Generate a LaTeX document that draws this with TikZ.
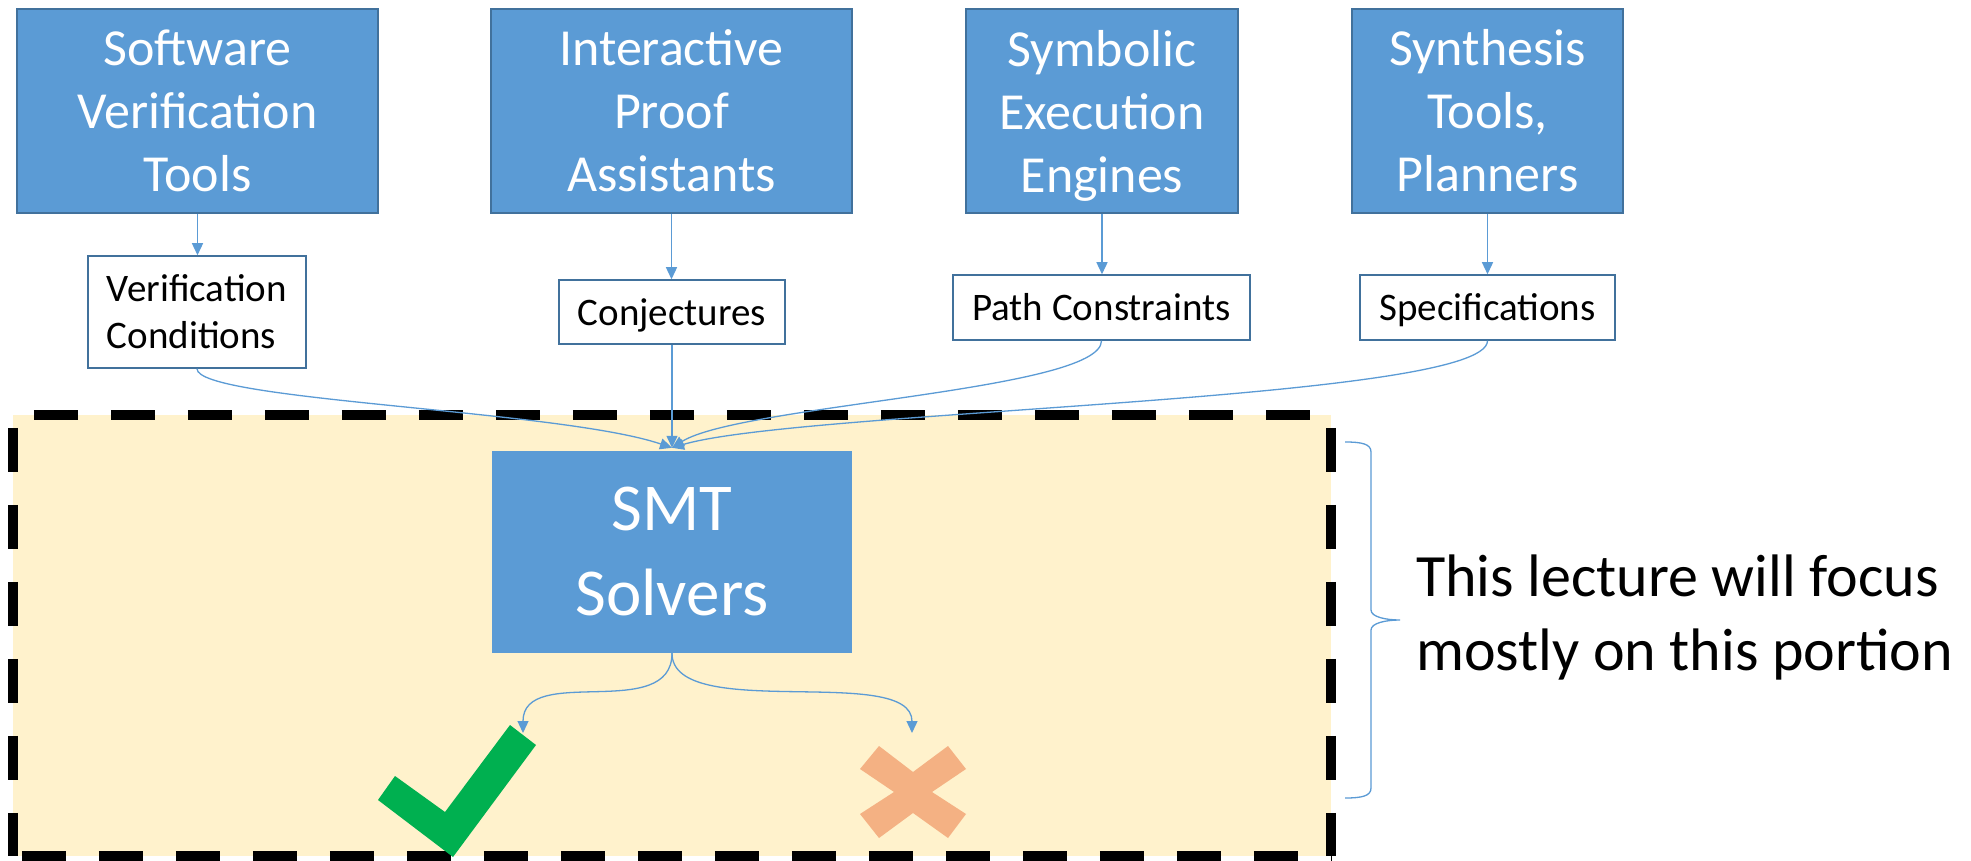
\documentclass[tikz,border=0pt]{standalone}
\usepackage{fontspec}
\setmainfont{Carlito}
\usepackage{xcolor}
\usepackage{tikz}
\usetikzlibrary{arrows.meta,positioning}
\definecolor{OfficeBlue}{RGB}{91,155,213}
\definecolor{OfficeEdge}{RGB}{65,113,156}
\definecolor{FocusBg}{RGB}{255,242,204}
\definecolor{YesGreen}{RGB}{0,176,80}
\definecolor{NoSalmon}{RGB}{244,177,131}

\begin{document}
\begin{tikzpicture}[x=1pt, y=-1pt,
  every node/.style={inner sep=0pt},
  tool/.style={rectangle, draw=OfficeEdge, line width=2pt, fill=OfficeBlue, text=white, align=center, minimum height=204pt, font=\fontsize{52}{63}\selectfont},
  result/.style={rectangle, draw=OfficeEdge, line width=1.5pt, fill=white, align=center, font=\fontsize{39}{47}\selectfont},
  solver/.style={rectangle, fill=OfficeBlue, text=white, align=center, minimum width=360pt, minimum height=202pt, font=\fontsize{67}{85}\selectfont},
  link/.style={draw=OfficeBlue, line width=1.3pt, -{Triangle[length=12pt,width=11pt]}},
  border/.style={line width=10pt, dash pattern=on 44pt off 33pt},
  brace/.style={draw=OfficeBlue, line width=1.3pt}
]
\path[use as bounding box, fill=white] (0,0) rectangle (1971,861);

% highlighted part with the solver
\node[fill=FocusBg, minimum width=1318pt, minimum height=441pt] (focus) at (672,635.5) {};
\draw[border, dash phase=56pt] (focus.north west) -- (focus.north east);
\draw[border, dash phase=64pt] (focus.north west) -- (focus.south west);
\draw[border, dash phase=64pt] (focus.north east) -- (focus.south east);
\draw[border, dash phase=68pt] (focus.south west) -- (focus.south east);

% front ends
\node[tool, minimum width=361pt] (svt) at (197.5,111) {Software\\Verification\\Tools};
\node[tool, minimum width=361pt] (ipa) at (671.5,111) {Interactive\\Proof\\Assistants};
\node[tool, minimum width=272pt] (see) at (1102,111) {Symbolic\\Execution\\\smash{Engines}};
\node[tool, minimum width=271pt] (syn) at (1487.5,111) {Synthesis\\Tools,\\Planners};

% what they produce
\node[result, align=left, minimum width=218pt, minimum height=112pt] (vc) at (197,312) {Verification\\Conditions};
\node[result, text depth=0pt, minimum width=226pt, minimum height=64pt] (conj) at (672,312) {Conjectures};
\node[result, minimum width=297pt, minimum height=65pt] (pc) at (1101.5,307.5) {Path Constraints};
\node[result, text depth=0pt, minimum width=255pt, minimum height=65pt] (spec) at (1487.5,307.5) {Specifications};

\draw[link] (svt) -- (svt |- vc.north);
\draw[link] (ipa) -- (ipa |- conj.north);
\draw[link] (see) -- (see |- pc.north);
\draw[link] (syn) -- (syn |- spec.north);

% solver and its answers
\node[solver] (smt) at (672,552) {SMT\\Solvers};
\coordinate (inlet) at ([yshift=3pt]smt.north);
\coordinate (yes) at (523,733);
\coordinate (no) at (912,733);

\fill[YesGreen] (510,725) -- (536,745) -- (453,857) -- (378,800) -- (395,776) -- (445,812) -- cycle;
\fill[NoSalmon] (879,746) -- (913,772) -- (948,746) -- (966,769) -- (932,792) -- (966,814)
  -- (948,838) -- (913,813) -- (879,838) -- (860,814) -- (894,792) -- (860,769) -- cycle;

\draw[link] (vc.south) .. controls +(0,32) and +(-112,-38) .. (inlet);
\draw[link] (conj.south) -- (inlet);
\draw[link] (pc.south) .. controls +(0,50) and +(68,-43) .. (inlet);
\draw[link] (spec.south) .. controls +(0,60) and +(128,-38) .. (inlet);

\draw[link] (smt.south) .. controls +(0,70) and +(0,-70) .. (yes);
\draw[link] (smt.south) .. controls +(0,70) and +(0,-70) .. (no);

% brace and remark
\coordinate (tip) at (1400,620);
\draw[brace] (1345,442) .. controls (1362,442) and (1371,444) .. (1371,452) -- (1371,610)
  .. controls (1371,617) and (1386,620) .. (tip)
  .. controls (1386,620) and (1371,623) .. (1371,630) -- (1371,788)
  .. controls (1371,796) and (1362,798) .. (1345,798);
\node[anchor=west, align=left, font=\fontsize{60}{74}\selectfont] (remark) at ([xshift=16pt,yshift=3pt]tip) {This lecture will focus\\mostly on this portion};
\end{tikzpicture}
\end{document}
